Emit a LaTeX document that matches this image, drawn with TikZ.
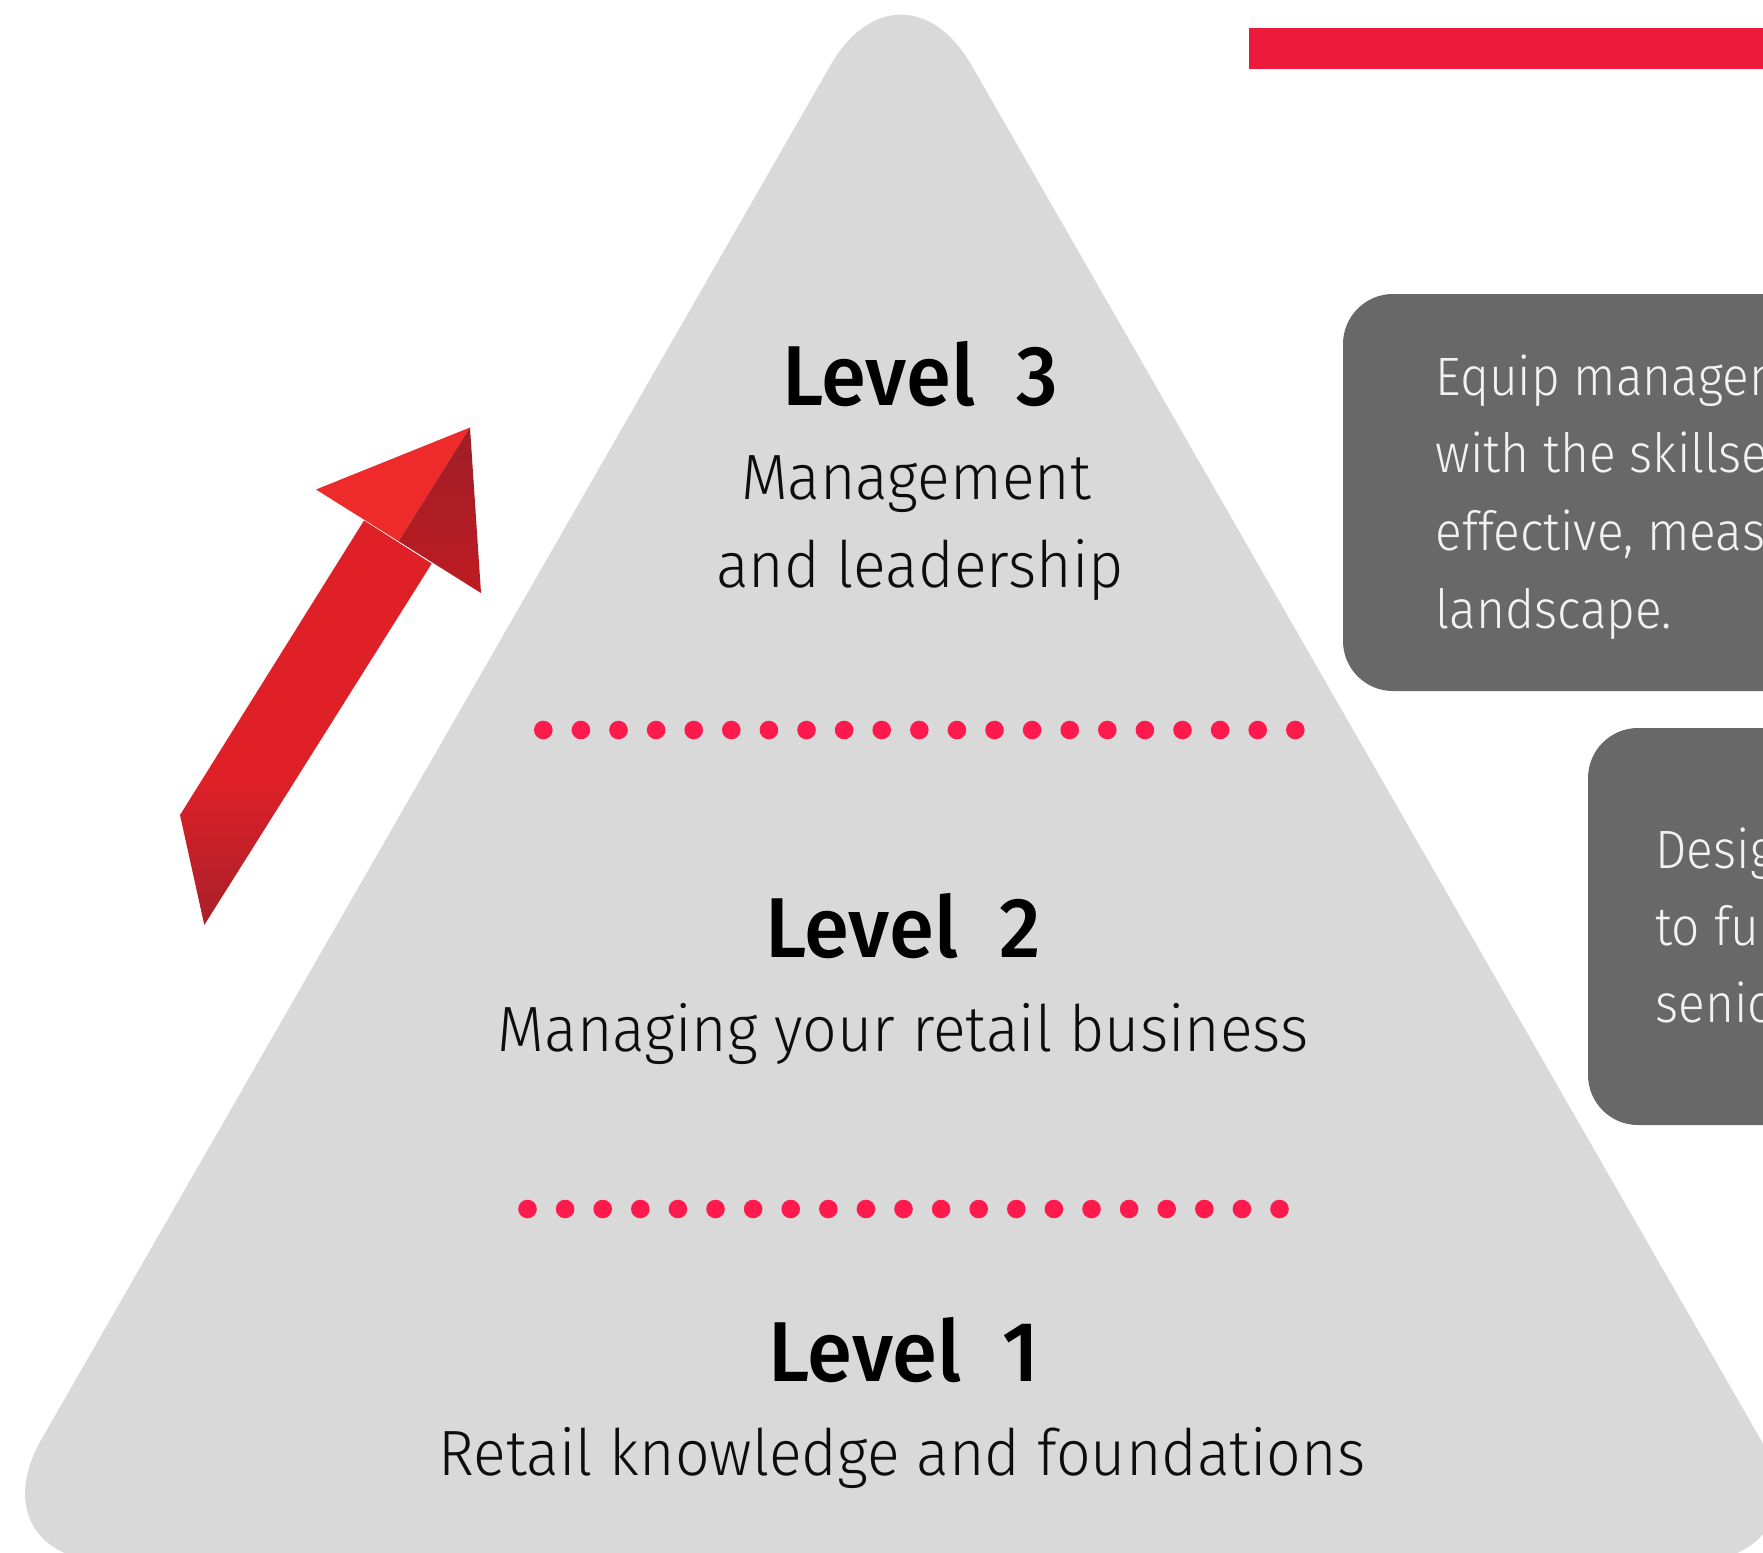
\documentclass[tikz,border=0pt]{standalone}
\usepackage{fontspec}
\setmainfont{Fira Sans}
\newfontfamily\levelfont[FakeStretch=0.96]{Fira Sans Medium}
\newfontfamily\subfont[FakeStretch=0.95]{Fira Sans Light}
\newfontfamily\boxfont[FakeStretch=0.92]{Fira Sans Light}

\definecolor{pyrgrey}{HTML}{D9D9D9}
\definecolor{boxgrey}{HTML}{686868}
\definecolor{barred}{HTML}{EE1A3B}
\definecolor{dotred}{HTML}{FE1A4C}
\definecolor{arrowred}{HTML}{DF2027}
\definecolor{arrowlight}{HTML}{EE2A2B}
\definecolor{arrowdark}{HTML}{A8202A}

% path box spans 25bp..75bp of the shading
\pgfdeclareverticalshading{shaftshade}{100bp}{color(0bp)=(arrowdark); color(25bp)=(arrowdark); color(43bp)=(arrowred); color(100bp)=(arrowred)}

\tikzset{
  leveltext/.style={anchor=base, text=black, font=\levelfont\fontsize{85}{90}\selectfont},
  subtext/.style={anchor=base, text=black!95, font=\subfont\fontsize{64}{70}\selectfont},
  boxtext/.style={anchor=base west, text=white!95!black, font=\boxfont\fontsize{54}{60}\selectfont},
}

\begin{document}
\begin{tikzpicture}[x=1pt, y=-1pt]
  \useasboundingbox (0,0) rectangle (1763,1552);
  \clip (0,0) rectangle (1763,1552);

  % pyramid
  \fill[pyrgrey, rounded corners=142pt] (901,-57.5) -- (1831,1562) -- (-29,1562) -- cycle;

  % red bar and side boxes
  \fill[barred] (1249,28) rectangle (1800,69);
  \fill[boxgrey, rounded corners=50pt] (1343,294) rectangle (1820,691);
  \fill[boxgrey, rounded corners=50pt] (1588,728) rectangle (1820,1125);

  % dotted separators
  \foreach \i in {0,...,20} {
    \fill[dotred] (543.3+\i*37.6, 730) circle (9.3pt);
    \fill[dotred] (527.5+\i*37.6, 1209) circle (9.3pt);
  }

  % arrow
  \shade[shading=shaftshade] (180,815) -- (364,520.5) -- (431.7,563.6) -- (204.3,925) -- cycle;
  \fill[arrowlight] (470,427.5) -- (316,489.5) -- (398.5,541.2) -- cycle;
  \shade[top color=arrowdark!95!black, bottom color=arrowred!85!black]
    (470,427.5) -- (398.5,541.2) -- (481,593) -- cycle;

  % levels
  \node[leveltext] (lv3) at (920,405) {Level~~3};
  \node[subtext] (lv3a) at (916,499) {Management};
  \node[subtext] (lv3b) at (920,587) {and leadership};

  \node[leveltext] (lv2) at (903,957) {Level~~2};
  \node[subtext] (lv2a) at (903,1051) {Managing your retail business};

  \node[leveltext] (lv1) at (904,1381) {Level~~1};
  \node[subtext] (lv1a) at (902,1475) {Retail knowledge and foundations};

  % box texts
  \foreach \t [count=\i from 0] in {Equip management, with the skillsets, {effective, measurable}, landscape.}
    \node[boxtext] (bx1\i) at (1432,395+\i*77.7) {\t};
  \foreach \t [count=\i from 0] in {Designed, to further, senior}
    \node[boxtext] (bx2\i) at (1652,868+\i*77) {\t};
\end{tikzpicture}
\end{document}
